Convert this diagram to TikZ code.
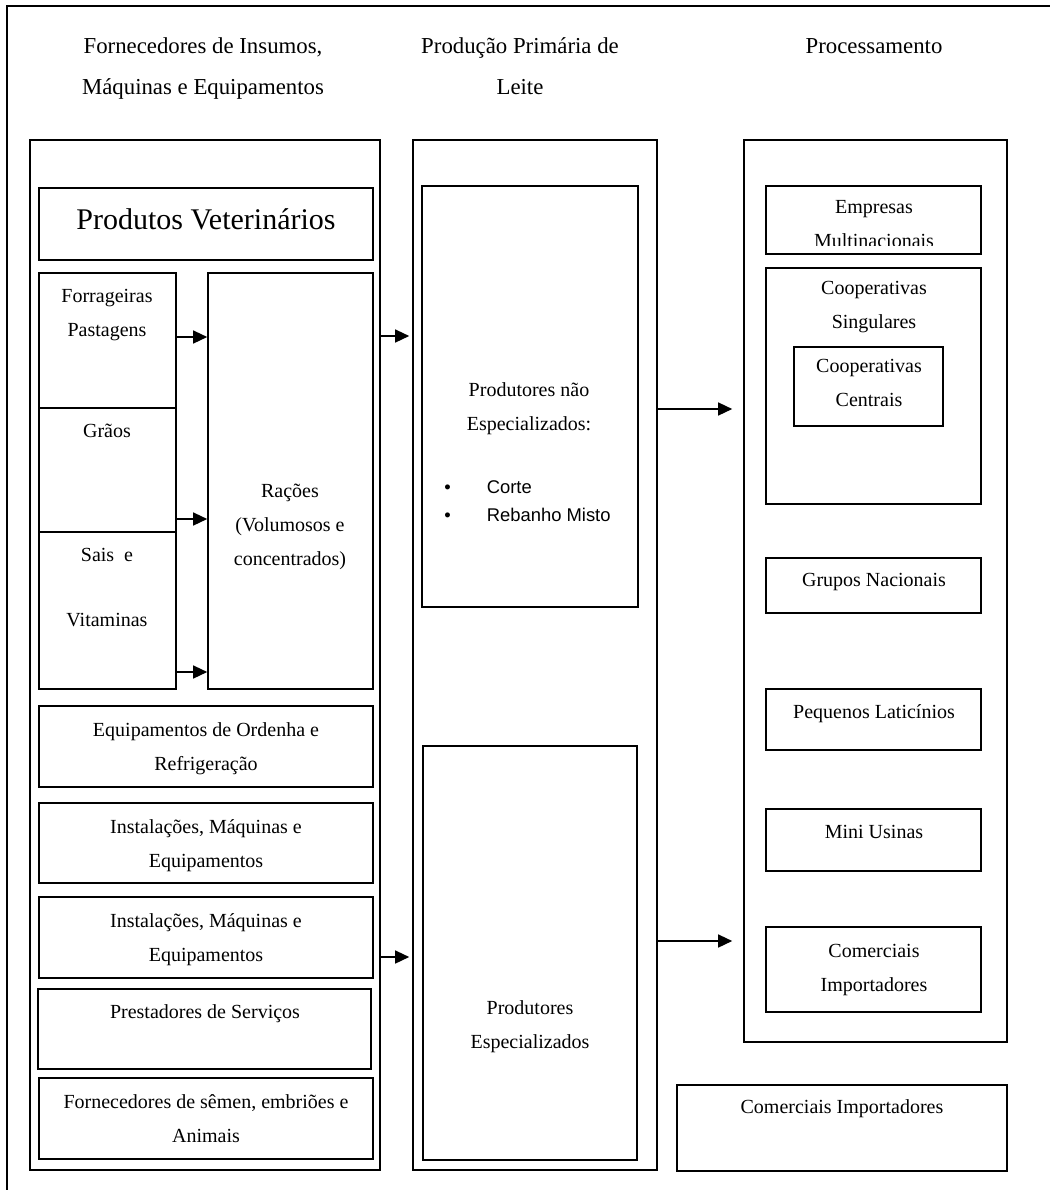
\documentclass[tikz,border=0pt]{standalone}
\usepackage{fontspec}
\setmainfont{Liberation Serif}
\newfontfamily\listfont{Liberation Sans}
\usetikzlibrary{arrows.meta, fit}

\begin{document}
\begin{tikzpicture}[
		x=0.5pt, y=-0.5pt,
		c/.style = {rectangle, draw, line width=0.8pt, inner sep=0pt},
		b/.style = {rectangle, draw, line width=0.8pt, inner sep=0pt},
		t/.style = {anchor=base, align=center, inner sep=0pt, font=\fontsize{10}{17}\selectfont},
		h/.style = {t, font=\fontsize{11.4}{20.5}\selectfont},
		g/.style = {t, font=\fontsize{15}{18}\selectfont},
		l/.style = {anchor=base west, inner sep=0pt, font=\listfont\fontsize{9.2}{14}\selectfont},
		r/.style = {-{Triangle[length=7pt, width=6.5pt]}, line width=0.7pt},
		]
		\useasboundingbox (0,0) rectangle (1050,1190);
		
		% === === Frame === ===
		\draw[line width=0.8pt] (1050,6) -- (7,6) -- (7,1190);
		
		% === === Columns === ===
		% (multi-line texts sit on the baseline of their last line)
		\node[c, fit={(30,140) (380,1170)}]		(forn)	{};
		\node[c, fit={(413,140) (657,1170)}]	(prod)	{};
		\node[c, fit={(744,140) (1007,1042)}]	(proc)	{};
		
		\node[h]	(hforn)	at	(203, 94)	{Fornecedores de Insumos,\\Máquinas e Equipamentos};
		\node[h]	(hprod)	at	(520, 94)	{Produção Primária de\\Leite};
		\node[h]	(hproc)	at	(874, 53)	{Processamento};
		
		% === === Fornecedores === ===
		\node[b, fit={(39,188) (373,260)}]		(vet)	{};
		\node[g]	(vet-t)		at	(206, 229)	{Produtos Veterinários};
		
		\node[b, fit={(39,273) (176,408)}]		(forr)	{};
		\node[t]	(forr-t)	at	(107, 336)	{Forrageiras\\Pastagens};
		\node[b, fit={(39,408) (176,532)}]		(graos)	{};
		\node[t]	(graos-t)	at	(107, 437)	{Grãos};
		\node[b, fit={(39,532) (176,689)}]		(sais)	{};
		\node[t]	(sais-t)	at	(107, 626)	{Sais \ e\\[15.5pt]Vitaminas};
		\node[b, fit={(208,273) (373,689)}]		(rac)	{};
		\node[t]	(rac-t)		at	(290, 565)	{Rações\\(Volumosos e\\concentrados)};
		
		\node[b, fit={(39,706) (373,787)}]		(equip)	{};
		\node[t]	(equip-t)	at	(206, 770)	{Equipamentos de Ordenha e\\Refrigeração};
		\node[b, fit={(39,803) (373,883)}]		(inst1)	{};
		\node[t]	(inst1-t)	at	(206, 867)	{Instalações, Máquinas e\\Equipamentos};
		\node[b, fit={(39,897) (373,978)}]		(inst2)	{};
		\node[t]	(inst2-t)	at	(206, 961)	{Instalações, Máquinas e\\Equipamentos};
		\node[b, fit={(38,989) (371,1069)}]		(prest)	{};
		\node[t]	(prest-t)	at	(205, 1018)	{Prestadores de Serviços};
		\node[b, fit={(39,1078) (373,1159)}]	(semen)	{};
		\node[t]	(semen-t)	at	(206, 1142)	{Fornecedores de sêmen, embriões e\\Animais};
		
		% === === Produção === ===
		\node[b, fit={(422,186) (638,607)}]		(nesp)	{};
		\node[t]	(nesp-t)	at	(529, 430)	{Produtores não\\Especializados:};
		\node[l]	(nesp-l)	at	(444, 493)	{\begin{tabular}[t]{@{}l@{\hspace{18pt}}l@{}}\textbullet & Corte\\ \textbullet & Rebanho Misto\end{tabular}};
		\node[b, fit={(423,746) (637,1160)}]	(esp)	{};
		\node[t]	(esp-t)		at	(530, 1048)	{Produtores\\Especializados};
		
		% === === Processamento === ===
		\node[b, fit={(766,186) (981,254)}]		(multi)	{};
		\begin{scope}
			\clip (766,186) rectangle (981,245);
			\node[t]	(multi-t)	at	(874, 247)	{Empresas\\Multinacionais};
		\end{scope}
		\node[b, fit={(766,268) (981,504)}]		(csing)	{};
		\node[t]	(csing-t)	at	(874, 328)	{Cooperativas\\Singulares};
		\node[b, fit={(794,347) (943,426)}]		(ccent)	{};
		\node[t]	(ccent-t)	at	(869, 406)	{Cooperativas\\Centrais};
		\node[b, fit={(766,558) (981,613)}]		(grupos)	{};
		\node[t]	(grupos-t)	at	(874, 586)	{Grupos Nacionais};
		\node[b, fit={(766,689) (981,750)}]		(peq)	{};
		\node[t]	(peq-t)		at	(874, 718)	{Pequenos Laticínios};
		\node[b, fit={(766,809) (981,871)}]		(mini)	{};
		\node[t]	(mini-t)	at	(874, 838)	{Mini Usinas};
		\node[b, fit={(766,927) (981,1012)}]	(comimp)	{};
		\node[t]	(comimp-t)	at	(874, 991)	{Comerciais\\Importadores};
		
		\node[b, fit={(677,1085) (1007,1171)}]	(comimp2)	{};
		\node[t]	(comimp2-t)	at	(842, 1113)	{Comerciais Importadores};
		
		% === === Arrows === ===
		\coordinate (ya) at (0, 337);
		\coordinate (yb) at (0, 519);
		\coordinate (yc) at (0, 672);
		\coordinate (yd) at (0, 336);
		\coordinate (ye) at (0, 957);
		\coordinate (yf) at (0, 409);
		\coordinate (yg) at (0, 941);
		
		\draw[r]	(forr.east |- ya)	--	(rac.west |- ya);
		\draw[r]	(graos.east |- yb)	--	(rac.west |- yb);
		\draw[r]	(sais.east |- yc)	--	(rac.west |- yc);
		\draw[r, shorten >=1.5pt]	(forn.east |- yd)	--	(prod.west |- yd);
		\draw[r, shorten >=1.5pt]	(forn.east |- ye)	--	(prod.west |- ye);
		\draw[r, shorten >=5.5pt]	(prod.east |- yf)	--	(proc.west |- yf);
		\draw[r, shorten >=5.5pt]	(prod.east |- yg)	--	(proc.west |- yg);
		
	\end{tikzpicture}
\end{document}
